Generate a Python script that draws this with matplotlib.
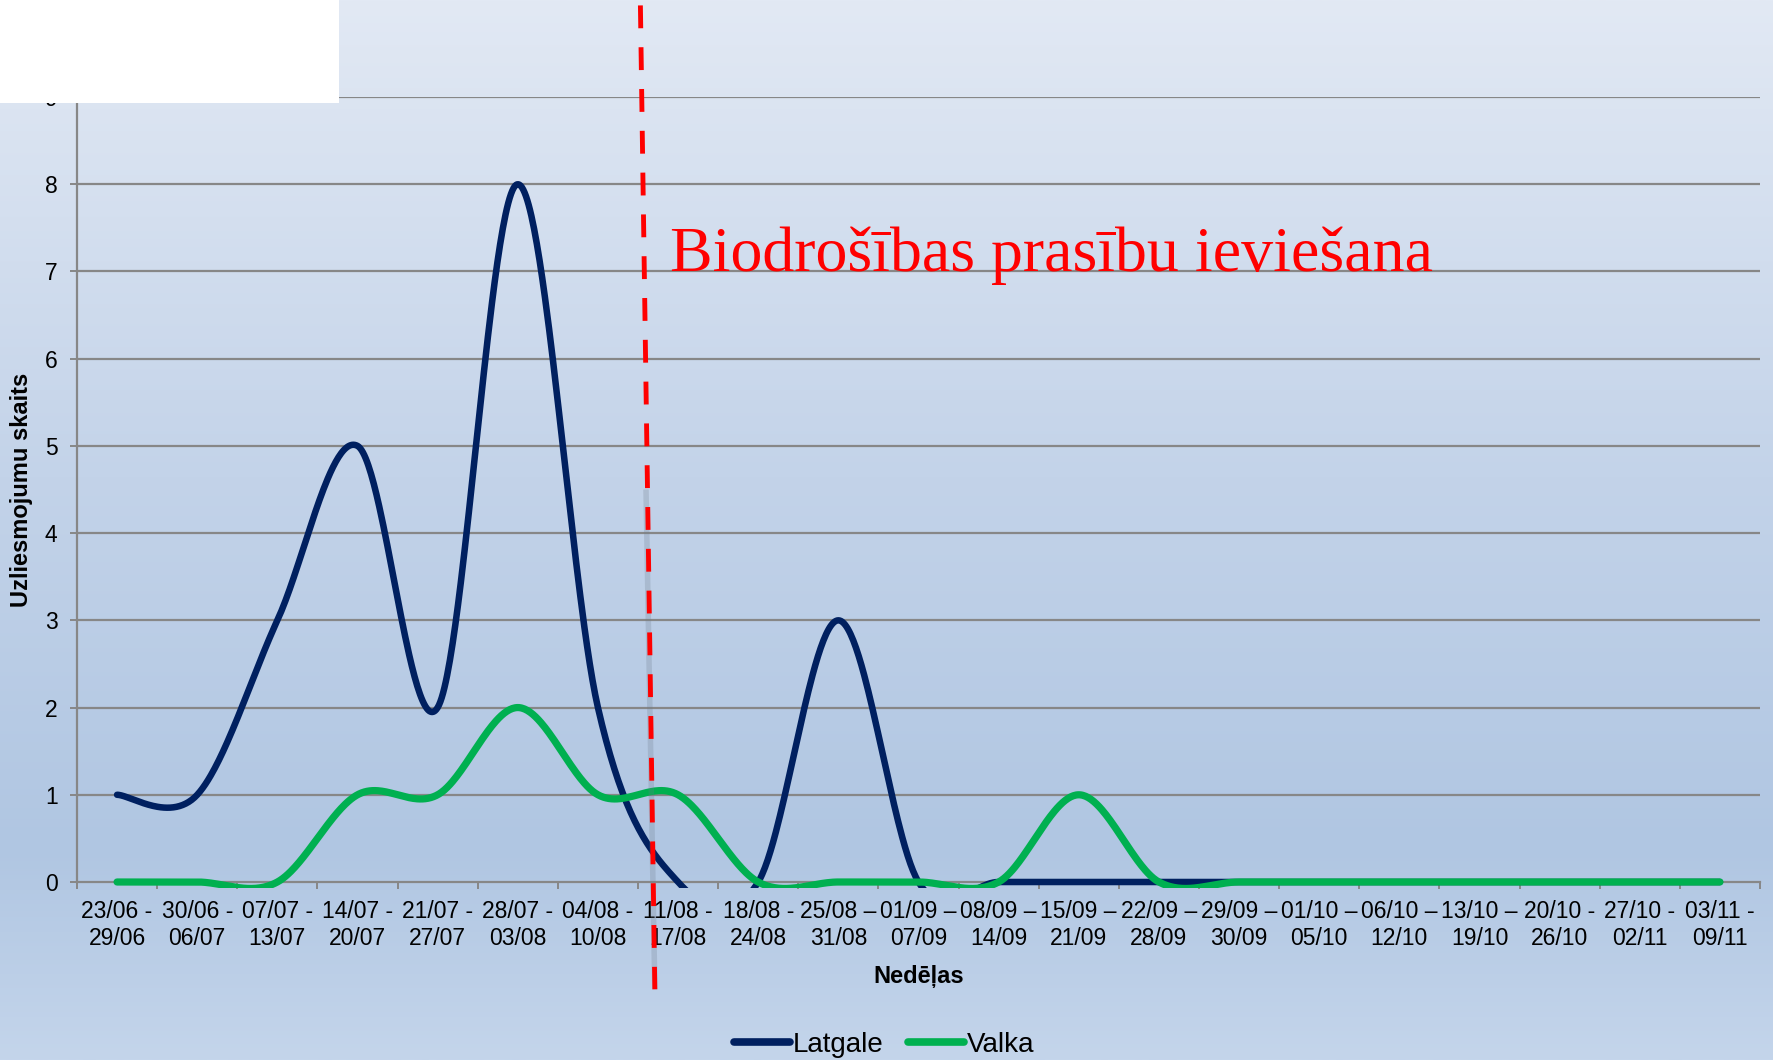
import matplotlib
matplotlib.use("Agg")
import matplotlib.pyplot as plt
import numpy as np
from matplotlib.patches import Rectangle

# weeks
week_start = ["23/06", "30/06", "07/07", "14/07", "21/07", "28/07", "04/08",
              "11/08", "18/08", "25/08", "01/09", "08/09", "15/09", "22/09",
              "29/09", "01/10", "06/10", "13/10", "20/10", "27/10", "03/11"]
week_end = ["29/06", "06/07", "13/07", "20/07", "27/07", "03/08", "10/08",
            "17/08", "24/08", "31/08", "07/09", "14/09", "21/09", "28/09",
            "30/09", "05/10", "12/10", "19/10", "26/10", "02/11", "09/11"]
week_dash = ["-", "-", "-", "-", "-", "-", "-", "-", "-", "\u2013", "\u2013",
             "\u2013", "\u2013", "\u2013", "\u2013", "\u2013", "\u2013", "\u2013",
             "-", "-", "-"]

latgale = [1, 1, 3, 5, 2, 8, 2, 0, 0, 3, 0, 0, 0, 0, 0, 0, 0, 0, 0, 0, 0]
valka = [0, 0, 0, 1, 1, 2, 1, 1, 0, 0, 0, 0, 1, 0, 0, 0, 0, 0, 0, 0, 0]

y_ticks = list(range(0, 10))
note = "Biodrošības prasību ieviešana"

NAVY = "#002060"
GREEN = "#00B050"
GRID = "#878787"


def excel_smooth(vals, n=60):
    # bezier smoothing like excel "smoothed line"
    p = np.column_stack([np.arange(len(vals)), np.array(vals, dtype=float)])
    xs, ys = [], []
    t = np.linspace(0, 1, n)
    for i in range(len(p) - 1):
        p0 = p[i - 1] if i > 0 else p[i]
        p1 = p[i]
        p2 = p[i + 1]
        p3 = p[i + 2] if i + 2 < len(p) else p[i + 1]
        c1 = p1 + (p2 - p0) / 6.0
        c2 = p2 - (p3 - p1) / 6.0
        b = ((1 - t) ** 3)[:, None] * p1 + (3 * (1 - t) ** 2 * t)[:, None] * c1 \
            + (3 * (1 - t) * t ** 2)[:, None] * c2 + (t ** 3)[:, None] * p2
        xs.append(b[:, 0])
        ys.append(b[:, 1])
    return np.concatenate(xs), np.concatenate(ys)


fig = plt.figure(figsize=(17.73, 10.60), dpi=100)

# background gradient
bg = fig.add_axes([0, 0, 1, 1], zorder=-5)
stops = np.array([0.0, 0.45, 0.8, 1.0])
cols = np.array([[226, 233, 244], [195, 211, 233], [176, 198, 226], [196, 213, 235]]) / 255.0
pos = np.linspace(0, 1, 400)
grad = np.stack([np.interp(pos, stops, cols[:, k]) for k in range(3)], axis=1)
bg.imshow(grad[:, None, :], aspect="auto", extent=[0, 1, 0, 1])
bg.set_axis_off()

ax = fig.add_axes([77 / 1773, 1 - 882 / 1060, (1760 - 77) / 1773, (882 - 97) / 1060])
ax.set_facecolor("none")

n = len(latgale)
ax.set_xlim(-0.5, n - 0.5)
ax.set_ylim(0, 9)

for yv in y_ticks[1:]:
    ax.axhline(yv, color=GRID, lw=1.6, zorder=1)

# lines may poke a few pixels under the zero line, like excel does
clip = Rectangle((-0.01, -0.008), 1.02, 1.1, transform=ax.transAxes,
                 facecolor="none", edgecolor="none")

x1, y1 = excel_smooth(latgale)
x2, y2 = excel_smooth(valka)
l1, = ax.plot(x1, y1, color=NAVY, lw=4.7, solid_capstyle="round",
              zorder=3, label="Latgale")
l2, = ax.plot(x2, y2, color=GREEN, lw=5.2, solid_capstyle="round",
              zorder=4, label="Valka")
l1.set_clip_path(clip)
l2.set_clip_path(clip)

# intervention line
ax.plot([6.6, 6.71], [4.5, -1.23], color="#6f7c8c", lw=4, alpha=0.25,
        clip_on=False, zorder=5, solid_capstyle="butt")
ax.plot([6.53, 6.71], [10.05, -1.23], color="#ff0000", lw=3.5,
        dashes=(4.7, 3.9), dash_capstyle="butt", clip_on=False, zorder=6)
ax.text(6.9, 7, note, color="#ff0000", fontsize=46, family="Liberation Serif",
        ha="left", va="baseline", zorder=7)

# axes styling
for s in ["top", "right"]:
    ax.spines[s].set_visible(False)
ax.spines["left"].set_color(GRID)
ax.spines["left"].set_linewidth(1.6)
ax.spines["bottom"].set_color(GRID)
ax.spines["bottom"].set_linewidth(1.6)

ax.set_yticks(y_ticks)
ax.set_yticklabels([str(v) for v in y_ticks], fontsize=16.5, family="Liberation Sans")
ax.tick_params(axis="y", length=5, width=1.4, color=GRID, pad=9)

ax.set_xticks(np.arange(-0.5, n, 1.0))
ax.set_xticklabels([])
ax.tick_params(axis="x", which="major", length=5, width=1.4, color=GRID)
ax.set_xticks(np.arange(n), minor=True)
ax.set_xticklabels([f"{a} {d}\n{b}" for a, d, b in zip(week_start, week_dash, week_end)],
                   minor=True, fontsize=16.5, family="Liberation Sans",
                   linespacing=1.2, ha="center")
ax.tick_params(axis="x", which="minor", length=0, pad=13)

fig.text(22 / 1773, 1 - 490 / 1060, "Uzliesmojumu skaits", rotation=90,
         fontsize=17, fontweight="bold", family="Liberation Sans",
         ha="center", va="center")
fig.text(919 / 1773, 1 - 976 / 1060, "Nedēļas", fontsize=17, fontweight="bold",
         family="Liberation Sans", ha="center", va="center")

leg = fig.legend(loc="center", bbox_to_anchor=(884 / 1773, 1 - 1045 / 1060),
                 ncol=2, frameon=False, handlelength=2.0, handletextpad=0.1,
                 columnspacing=0.9, prop={"family": "Liberation Sans", "size": 20})
for h in leg.get_lines():
    h.set_linewidth(5.5)

# white box over top-left corner
fig.patches.append(Rectangle((0, 1 - 103 / 1060), 339 / 1773, 103 / 1060,
                             transform=fig.transFigure, facecolor="white",
                             edgecolor="none", zorder=20))

fig.savefig("out.png", dpi=100)
